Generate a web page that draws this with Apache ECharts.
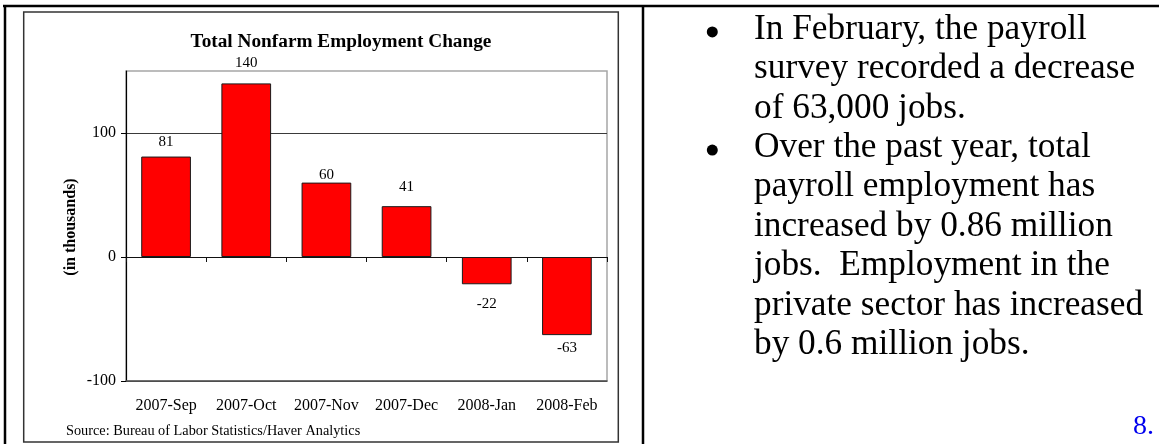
<!DOCTYPE html>
<html>
<head>
<meta charset="utf-8">
<script src="https://cdn.jsdelivr.net/npm/echarts@6/dist/echarts.min.js"></script>
<style>
  html, body { margin: 0; padding: 0; background: #fff; }
  #chart { width: 1159px; height: 444px; }
</style>
</head>
<body>
<div id="chart"></div>
<script>
// Monthly change in total nonfarm payrolls (thousands of jobs)
const months = ['2007-Sep', '2007-Oct', '2007-Nov', '2007-Dec', '2008-Jan', '2008-Feb'];
const jobChange = [81, 140, 60, 41, -22, -63];
const yTicks = [-100, 0, 100];

// Gap between each bar end and its value label (px)
const labelGap = [7, 12.5, 0, 12, 12.5, 5];

const chartTitle = 'Total Nonfarm Employment Change';
const yTitle = '(in thousands)';
const sourceNote = 'Source: Bureau of Labor Statistics/Haver Analytics';

// Commentary beside the chart, one entry per bullet, one string per line
const notes = [
  ['In February, the payroll', 'survey recorded a decrease', 'of 63,000 jobs.'],
  ['Over the past year, total', 'payroll employment has', 'increased by 0.86 million',
   'jobs.  Employment in the', 'private sector has increased', 'by 0.6 million jobs.']
];
const pageNo = '8.';

const SERIF = "'Liberation Serif', 'Times New Roman', serif";

const chart = echarts.init(document.getElementById('chart'), null, { renderer: 'canvas' });

// Bars with per-bar label placement (above for gains, below for losses)
const barData = jobChange.map((v, i) => ({
  value: v,
  label: { position: v >= 0 ? 'top' : 'bottom', distance: labelGap[i] }
}));

// Side panel text
const noteFont = 35.3;
const lineStep = 39.4;
const firstBaseline = 41.5;
const noteGraphics = [];
let lineNo = 0;
notes.forEach((block) => {
  noteGraphics.push({
    type: 'circle',
    shape: { cx: 712.3, cy: firstBaseline + lineNo * lineStep - 9.6, r: 5.5 },
    style: { fill: '#000' }
  });
  block.forEach((line) => {
    noteGraphics.push({
      type: 'text',
      x: 754,
      y: firstBaseline + lineNo * lineStep - 0.3375 * noteFont,
      style: {
        text: line, fill: '#000',
        font: `${noteFont}px ${SERIF}`,
        textAlign: 'left', textVerticalAlign: 'middle'
      }
    });
    lineNo++;
  });
});

const option = {
  animation: false,
  backgroundColor: '#fff',
  grid: {
    left: 126, top: 71, width: 481, height: 310,
    show: true, borderColor: '#a6a6a6', borderWidth: 1.5, backgroundColor: 'transparent'
  },
  xAxis: [
    {
      // axis through zero with boundary ticks
      type: 'category', data: months, position: 'bottom',
      axisLine: { onZero: true, lineStyle: { color: '#111', width: 1.2 } },
      axisTick: { show: true, inside: false, length: 5, lineStyle: { color: '#111' } },
      axisLabel: { show: false },
      splitLine: { show: false }
    },
    {
      // bottom edge carrying the month labels
      type: 'category', data: months, position: 'bottom',
      axisLine: { onZero: false, lineStyle: { color: '#555', width: 1.5 } },
      axisTick: { show: false },
      axisLabel: {
        show: true, interval: 0, margin: 17,
        fontFamily: SERIF, fontSize: 16, color: '#000'
      },
      splitLine: { show: false }
    }
  ],
  yAxis: {
    type: 'value', min: -100, max: 150, interval: 100,
    axisLine: { show: true, onZero: false, lineStyle: { color: '#000', width: 1.2 } },
    axisTick: { show: true, inside: false, length: 5, customValues: yTicks, lineStyle: { color: '#000' } },
    axisLabel: {
      customValues: yTicks, margin: 10,
      fontFamily: SERIF, fontSize: 16, color: '#000'
    },
    splitLine: { show: true, lineStyle: { color: '#3a3a3a', width: 1 } }
  },
  series: [{
    type: 'bar',
    xAxisIndex: 0,
    data: barData,
    barWidth: '62%',
    itemStyle: { color: '#ff0000', borderColor: '#1a1a1a', borderWidth: 1 },
    label: {
      show: true, fontFamily: SERIF, fontSize: 15, color: '#000'
    }
  }],
  graphic: [
    // table rules
    { type: 'line', shape: { x1: 3, y1: 6, x2: 1159, y2: 6 }, style: { stroke: '#000', lineWidth: 2.5 } },
    { type: 'line', shape: { x1: 5, y1: 5, x2: 5, y2: 444 }, style: { stroke: '#000', lineWidth: 2.5 } },
    { type: 'line', shape: { x1: 643, y1: 5, x2: 643, y2: 444 }, style: { stroke: '#000', lineWidth: 2.5 } },
    // chart frame
    { type: 'rect', shape: { x: 23.7, y: 12, width: 594.6, height: 430 },
      style: { fill: 'none', stroke: '#333', lineWidth: 1.5 } },
    // chart title
    { type: 'text', x: 341, y: 41.7,
      style: { text: chartTitle, fill: '#000', font: `bold 19.3px ${SERIF}`,
               textAlign: 'center', textVerticalAlign: 'middle' } },
    // value-axis title
    { type: 'text', x: 70.5, y: 227, rotation: Math.PI / 2,
      style: { text: yTitle, fill: '#000', font: `bold 16px ${SERIF}`,
               textAlign: 'center', textVerticalAlign: 'middle' } },
    // source line
    { type: 'text', x: 66, y: 431.7,
      style: { text: sourceNote, fill: '#000', font: `14.3px ${SERIF}`,
               textAlign: 'left', textVerticalAlign: 'middle' } },
    // page number
    { type: 'text', x: 1133, y: 436 - 0.3375 * 28,
      style: { text: pageNo, fill: '#0000ee', font: `28px ${SERIF}`,
               textAlign: 'left', textVerticalAlign: 'middle' } }
  ].concat(noteGraphics)
};

chart.setOption(option);
</script>
</body>
</html>
